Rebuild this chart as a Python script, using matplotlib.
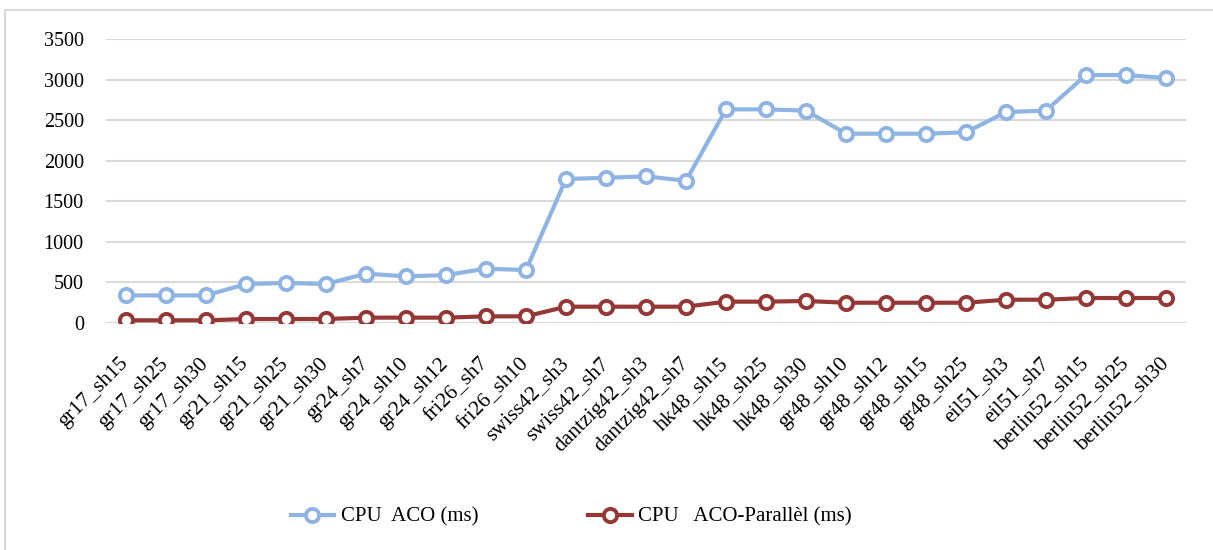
import numpy as np
import matplotlib
matplotlib.use("Agg")
import matplotlib.pyplot as plt
from matplotlib.patches import Rectangle
from matplotlib.transforms import ScaledTranslation

# instance names along the x axis
instances = ["gr17_sh15", "gr17_sh25", "gr17_sh30", "gr21_sh15", "gr21_sh25", "gr21_sh30",
             "gr24_sh7", "gr24_sh10", "gr24_sh12", "fri26_sh7", "fri26_sh10",
             "swiss42_sh3", "swiss42_sh7", "dantzig42_sh3", "dantzig42_sh7",
             "hk48_sh15", "hk48_sh25", "hk48_sh30", "gr48_sh10", "gr48_sh12",
             "gr48_sh15", "gr48_sh25", "eil51_sh3", "eil51_sh7",
             "berlin52_sh15", "berlin52_sh25", "berlin52_sh30"]

# CPU time (ms)
cpu_aco = [340, 340, 340, 480, 493, 480, 608, 575, 591, 669, 653,
           1774, 1790, 1807, 1753, 2633, 2633, 2617, 2333, 2333,
           2333, 2350, 2600, 2617, 3056, 3056, 3019]
cpu_parallel = [33, 33, 33, 49, 49, 49, 66, 66, 66, 82, 82,
                201, 201, 201, 201, 263, 263, 271, 250, 250,
                250, 250, 287, 287, 308, 308, 308]

yticks = [0, 500, 1000, 1500, 2000, 2500, 3000, 3500]

plt.rcParams['font.family'] = ['Liberation Serif', 'DejaVu Serif']

fig = plt.figure(figsize=(12.13, 5.5), dpi=100)
# light grey frame round the chart
fig.patches.append(Rectangle((5 / 1213, -0.01), 1.0, 1 - 10 / 550 + 0.01,
                             transform=fig.transFigure, fill=False,
                             edgecolor="#D9D9D9", linewidth=1.5))

axes = fig.add_axes([106 / 1213, 1 - 323 / 550, 1080 / 1213, 284 / 550])
x = np.arange(len(instances))

axes.plot(x, cpu_aco, color="#8EB4E3", linewidth=3, marker="o", markersize=9.5,
          markerfacecolor="white", markeredgewidth=2.8, markeredgecolor="#8EB4E3",
          label="CPU  ACO (ms)", zorder=3)
axes.plot(x, cpu_parallel, color="#953735", linewidth=3, marker="o", markersize=9.5,
          markerfacecolor="white", markeredgewidth=2.8, markeredgecolor="#953735",
          label="CPU   ACO-Parall\u00e8l (ms)", zorder=3)

axes.set_xlim(-0.5, len(instances) - 0.5)
axes.set_ylim(0, 3500)
axes.set_yticks(yticks)
axes.set_yticklabels([str(v) for v in yticks], fontsize=14.5)
axes.set_xticks(x)
axes.set_xticklabels(instances, rotation=45, ha="right", rotation_mode="anchor", fontsize=15.5)
axes.tick_params(axis="y", length=0, pad=16)
axes.tick_params(axis="x", length=0, pad=0)
# shift the slanted labels so each one ends just under its point
shift = ScaledTranslation(-0.07, -0.31, fig.dpi_scale_trans)
for lbl in axes.get_xticklabels():
    lbl.set_transform(lbl.get_transform() + shift)
axes.grid(axis="y", color="#D9D9D9", linewidth=1.5)
axes.set_axisbelow(True)
for side in axes.spines:
    axes.spines[side].set_visible(False)

fig.legend(loc="center", bbox_to_anchor=(0.471, 0.06), ncol=2, frameon=False,
           fontsize=15, handlelength=2.1, columnspacing=5.3, handletextpad=0.3)

fig.savefig("out.png", dpi=100)
